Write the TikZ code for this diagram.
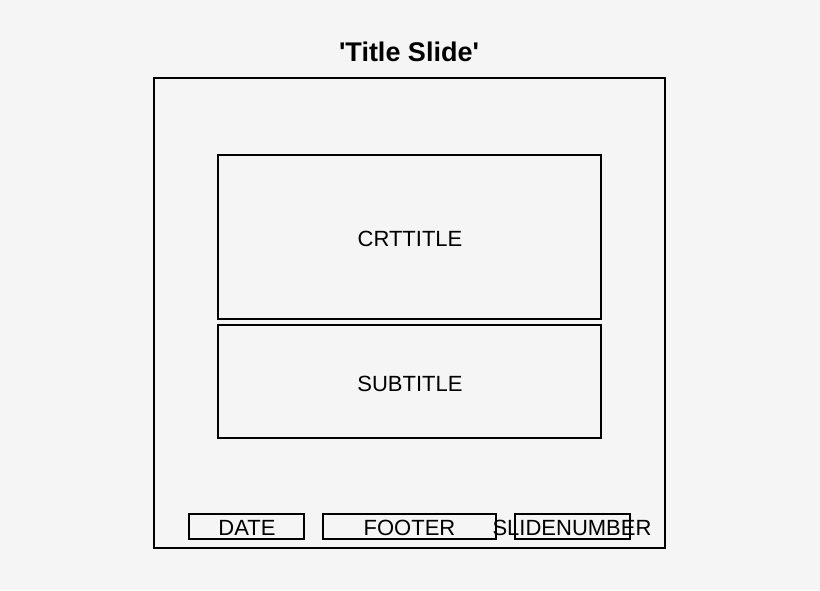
\documentclass[tikz,border=0pt]{standalone}
\usepackage{fontspec}
\setmainfont{Liberation Sans}[Ligatures=TeXOff]
\definecolor{bg}{HTML}{F5F5F5}
\begin{document}
\begin{tikzpicture}[x=1pt,y=-1pt,
  box/.style={draw=black,line width=1.6pt},
  lbl/.style={font=\fontsize{22}{24}\selectfont,inner sep=0pt,anchor=base},
]
\fill[bg] (0,0) rectangle (820,590);
\useasboundingbox (0,0) rectangle (820,590);
\node[font=\bfseries\fontsize{27}{30}\selectfont,inner sep=0pt,anchor=base] (title) at (409,61) {'Title Slide'};
\draw[box] (154,78) rectangle (665,548);
\draw[box] (218,155) rectangle (601,319);
\node[lbl] (crt) at (410,246) {CRTTITLE};
\draw[box] (218,325) rectangle (601,438);
\node[lbl] (sub) at (410,391) {SUBTITLE};
\draw[box] (189,514) rectangle (304,539);
\node[lbl] (date) at (247,535) {DATE};
\draw[box] (323,514) rectangle (496,539);
\node[lbl] (footer) at (409.5,535) {FOOTER};
\draw[box] (515,514) rectangle (630,539);
\node[lbl] (num) at (572,535) {SLIDENUMBER};
\end{tikzpicture}
\end{document}
